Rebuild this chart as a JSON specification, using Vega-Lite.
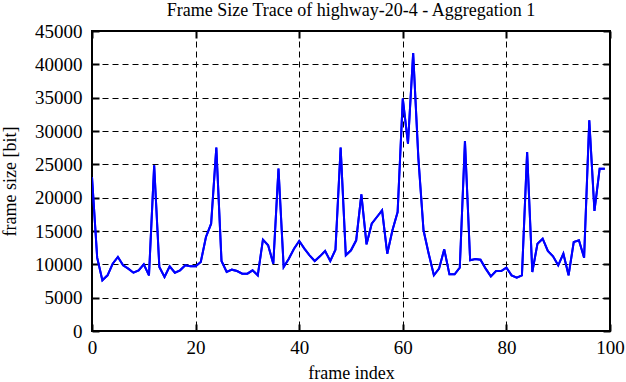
{
  "$schema": "https://vega.github.io/schema/vega-lite/v6.json",
  "width": 518,
  "height": 300,
  "autosize": {"type": "none"},
  "padding": {"left": 92, "top": 31, "right": 16, "bottom": 51},
  "background": "white",
  "title": {
    "text": "Frame Size Trace of highway-20-4 - Aggregation 1",
    "font": "Liberation Serif",
    "fontSize": 18,
    "fontWeight": "normal",
    "color": "black",
    "offset": 2,
    "anchor": "middle"
  },
  "config": {
    "font": "Liberation Serif",
    "view": {"stroke": "black", "strokeWidth": 2},
    "axis": {
      "labelFont": "Liberation Serif",
      "titleFont": "Liberation Serif",
      "labelFontSize": 19,
      "titleFontSize": 18,
      "titleFontWeight": "normal",
      "labelColor": "black",
      "titleColor": "black",
      "domain": false,
      "tickColor": "black",
      "tickWidth": 2,
      "tickSize": -7,
      "gridColor": "black",
      "gridDash": [6, 4],
      "gridWidth": 1,
      "gridOpacity": 1
    }
  },
  "data": {
    "values": [
      {"frame": 0, "size": 23100}, {"frame": 1, "size": 11000}, {"frame": 2, "size": 7600},
      {"frame": 3, "size": 8350}, {"frame": 4, "size": 10100}, {"frame": 5, "size": 11100},
      {"frame": 6, "size": 9850}, {"frame": 7, "size": 9350}, {"frame": 8, "size": 8750},
      {"frame": 9, "size": 9100}, {"frame": 10, "size": 10000}, {"frame": 11, "size": 8350},
      {"frame": 12, "size": 24850}, {"frame": 13, "size": 9600}, {"frame": 14, "size": 8100},
      {"frame": 15, "size": 9700}, {"frame": 16, "size": 8750}, {"frame": 17, "size": 9100},
      {"frame": 18, "size": 9850}, {"frame": 19, "size": 9700}, {"frame": 20, "size": 9700},
      {"frame": 21, "size": 10350}, {"frame": 22, "size": 14100}, {"frame": 23, "size": 16100},
      {"frame": 24, "size": 27500}, {"frame": 25, "size": 10500}, {"frame": 26, "size": 8850},
      {"frame": 27, "size": 9200}, {"frame": 28, "size": 9000}, {"frame": 29, "size": 8600},
      {"frame": 30, "size": 8600}, {"frame": 31, "size": 9100}, {"frame": 32, "size": 8350},
      {"frame": 33, "size": 13700}, {"frame": 34, "size": 12850}, {"frame": 35, "size": 10100},
      {"frame": 36, "size": 24350}, {"frame": 37, "size": 9600}, {"frame": 38, "size": 10850},
      {"frame": 39, "size": 12350}, {"frame": 40, "size": 13500}, {"frame": 41, "size": 12350},
      {"frame": 42, "size": 11350}, {"frame": 43, "size": 10500}, {"frame": 44, "size": 11200},
      {"frame": 45, "size": 12000}, {"frame": 46, "size": 10500}, {"frame": 47, "size": 12200},
      {"frame": 48, "size": 27500}, {"frame": 49, "size": 11350}, {"frame": 50, "size": 12100},
      {"frame": 51, "size": 13600}, {"frame": 52, "size": 20500}, {"frame": 53, "size": 13000},
      {"frame": 54, "size": 16100}, {"frame": 55, "size": 17100}, {"frame": 56, "size": 18100},
      {"frame": 57, "size": 11600}, {"frame": 58, "size": 15100}, {"frame": 59, "size": 17850},
      {"frame": 60, "size": 34850}, {"frame": 61, "size": 28100}, {"frame": 62, "size": 41700},
      {"frame": 63, "size": 26000}, {"frame": 64, "size": 15100}, {"frame": 65, "size": 11600},
      {"frame": 66, "size": 8350}, {"frame": 67, "size": 9350}, {"frame": 68, "size": 12250},
      {"frame": 69, "size": 8500}, {"frame": 70, "size": 8500}, {"frame": 71, "size": 9500},
      {"frame": 72, "size": 28500}, {"frame": 73, "size": 10600}, {"frame": 74, "size": 10800},
      {"frame": 75, "size": 10700}, {"frame": 76, "size": 9350}, {"frame": 77, "size": 8200},
      {"frame": 78, "size": 9000}, {"frame": 79, "size": 9000}, {"frame": 80, "size": 9500},
      {"frame": 81, "size": 8350}, {"frame": 82, "size": 8000}, {"frame": 83, "size": 8350},
      {"frame": 84, "size": 26850}, {"frame": 85, "size": 8850}, {"frame": 86, "size": 13100},
      {"frame": 87, "size": 13850}, {"frame": 88, "size": 12000}, {"frame": 89, "size": 11200},
      {"frame": 90, "size": 9850}, {"frame": 91, "size": 11600}, {"frame": 92, "size": 8350},
      {"frame": 93, "size": 13350}, {"frame": 94, "size": 13600}, {"frame": 95, "size": 11000},
      {"frame": 96, "size": 31600}, {"frame": 97, "size": 18000}, {"frame": 98, "size": 24350},
      {"frame": 99, "size": 24350}
    ]
  },
  "layer": [
    {
      "mark": {"type": "line", "color": "#0000ff", "strokeWidth": 2, "clip": true},
      "encoding": {
        "x": {
          "field": "frame", "type": "quantitative",
          "scale": {"domain": [0, 100], "nice": false, "zero": false},
          "axis": {"title": "frame index", "format": "d", "values": [0, 20, 40, 60, 80, 100], "labelFont": "Liberation Serif", "labelFontSize": 19, "titleFont": "Liberation Serif", "labelPadding": 14, "titlePadding": 7, "labelFlush": false}
        },
        "y": {
          "field": "size", "type": "quantitative",
          "scale": {"domain": [0, 45000], "nice": false},
          "axis": {"title": "frame size [bit]", "format": "d", "values": [0, 5000, 10000, 15000, 20000, 25000, 30000, 35000, 40000, 45000], "labelFont": "Liberation Serif", "labelFontSize": 19, "titleFont": "Liberation Serif", "titleFontSize": 18, "labelPadding": 17, "titlePadding": 15, "labelFlush": false}
        }
      }
    },
    {
      "mark": {"type": "line", "color": "#0000ff", "strokeWidth": 2, "clip": true},
      "encoding": {
        "x": {
          "field": "frame", "type": "quantitative",
          "axis": {"orient": "top", "title": null, "labels": false, "grid": false, "values": [0, 20, 40, 60, 80, 100]}
        },
        "y": {
          "field": "size", "type": "quantitative",
          "axis": {"orient": "right", "title": null, "labels": false, "grid": false, "values": [0, 5000, 10000, 15000, 20000, 25000, 30000, 35000, 40000, 45000]}
        }
      }
    }
  ],
  "resolve": {"axis": {"x": "independent", "y": "independent"}}
}
